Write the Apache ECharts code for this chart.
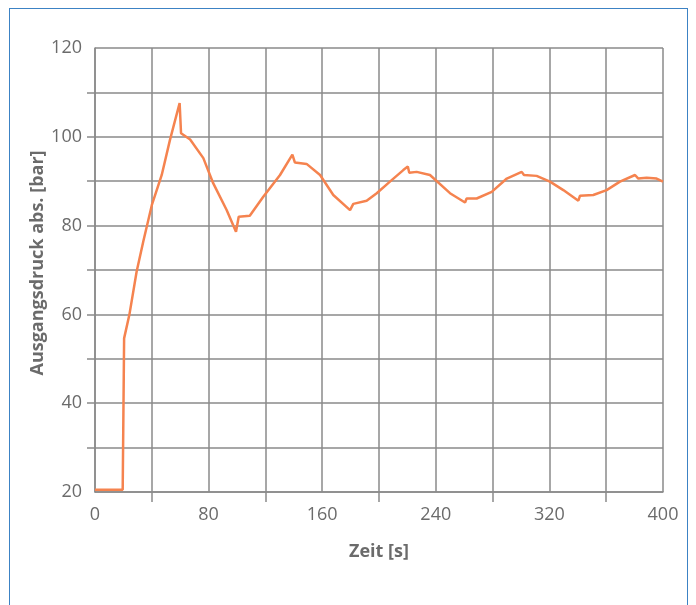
<!DOCTYPE html>
<html>
<head>
<meta charset="utf-8">
<script src="https://cdn.jsdelivr.net/npm/echarts@6/dist/echarts.min.js"></script>
<style>
html,body{margin:0;padding:0;background:#fff;overflow:hidden;}
#chart{width:696px;height:605px;position:absolute;left:0;top:0;}
#frame{position:absolute;left:9px;top:8px;width:679px;height:640px;border:1px solid #3c82c4;pointer-events:none;box-sizing:border-box;}
</style>
</head>
<body>
<div id="chart"></div>
<div id="frame"></div>
<script>
// Data
const timeS = [0, 19.5, 20.5, 24.2, 29.3, 34, 40, 47, 52.8, 59.6, 60.6, 67, 76.3, 83.3, 92.7, 99.3, 101.2, 109, 118.5, 130.3, 139, 140.8, 149, 158.5, 167.8, 179.6, 181.9, 191.3, 198.4, 207.7, 217.1, 220.3, 221.3, 226.5, 235.9, 250, 260.6, 261.7, 268.8, 279.4, 290, 300.5, 302.1, 311, 320.4, 329.8, 340.4, 341.5, 350.9, 360.3, 369.7, 380.3, 382.6, 388.5, 395.5, 400];
const pressureBar = [20.5, 20.5, 54.6, 59.9, 69.6, 76.4, 84.6, 91.4, 99.3, 107.6, 100.8, 99.4, 95.2, 89.5, 83.5, 78.6, 82, 82.2, 86.5, 91.4, 96, 94.2, 93.9, 91.4, 86.9, 83.5, 84.9, 85.6, 87.3, 89.9, 92.5, 93.3, 91.9, 92.1, 91.4, 87.3, 85.2, 86.1, 86.1, 87.6, 90.6, 92.1, 91.4, 91.2, 89.9, 88, 85.6, 86.7, 86.9, 88, 89.9, 91.4, 90.6, 90.8, 90.6, 89.9];
const xLabelValues = [0, 80, 160, 240, 320, 400];
const xTickValues = [40, 120, 200, 280, 360];
const yLabelValues = [20, 40, 60, 80, 100, 120];
const yTickValues = [30, 40, 50, 60, 70, 80, 90, 100, 110];
const xTitle = 'Zeit [s]';
const yTitle = 'Ausgangsdruck abs. [bar]';

const points = timeS.map((t, i) => [t, pressureBar[i]]);
const textColor = '#6b6b6b';
const gridColor = '#8a8a8a';
const font = '"Open Sans", "Noto Sans", sans-serif';

const chart = echarts.init(document.getElementById('chart'), null, {renderer: 'canvas'});
chart.setOption({
  animation: false,
  grid: {left: 95, right: 33, top: 48, bottom: 113, containLabel: false},
  xAxis: [{
    type: 'value', min: 0, max: 400, interval: 40,
    name: xTitle, nameLocation: 'middle', nameGap: 51, nameMoveOverlap: false,
    nameTextStyle: {color: textColor, fontSize: 18, fontWeight: 'bold', fontFamily: font},
    axisLine: {show: true, lineStyle: {color: gridColor, width: 1.5}},
    axisTick: {show: true, customValues: xTickValues, length: 10, lineStyle: {color: gridColor, width: 1.5}},
    axisLabel: {customValues: xLabelValues, color: textColor, fontSize: 18, fontFamily: font, margin: 14},
    splitLine: {show: false}
  }, {
    type: 'value', min: 0, max: 400, interval: 40, position: 'bottom',
    axisLine: {show: false}, axisTick: {show: false}, axisLabel: {show: false},
    splitLine: {show: true, lineStyle: {color: gridColor, width: 1.5}}
  }],
  yAxis: [{
    type: 'value', min: 20, max: 120, interval: 10,
    name: yTitle, nameLocation: 'middle', nameGap: 48, nameRotate: 90, nameMoveOverlap: false,
    nameTextStyle: {color: textColor, fontSize: 18, fontWeight: 'bold', fontFamily: font, padding: [0, 0, 0, 14]},
    axisLine: {show: true, lineStyle: {color: gridColor, width: 1.5}},
    axisTick: {show: true, customValues: yTickValues, length: 8, lineStyle: {color: gridColor, width: 1.5}},
    axisLabel: {customValues: yLabelValues, color: textColor, fontSize: 18, fontFamily: font, margin: 13},
    splitLine: {show: false}
  }, {
    type: 'value', min: 20, max: 120, interval: 10, position: 'left',
    axisLine: {show: false}, axisTick: {show: false}, axisLabel: {show: false},
    splitLine: {show: true, lineStyle: {color: gridColor, width: 1.5}}
  }],
  series: [{
    type: 'line', data: points, showSymbol: false, symbol: 'none', xAxisIndex: 0, yAxisIndex: 0,
    lineStyle: {color: '#f5834f', width: 2.5}, itemStyle: {color: '#f5834f'}
  }]
});
</script>
</body>
</html>
